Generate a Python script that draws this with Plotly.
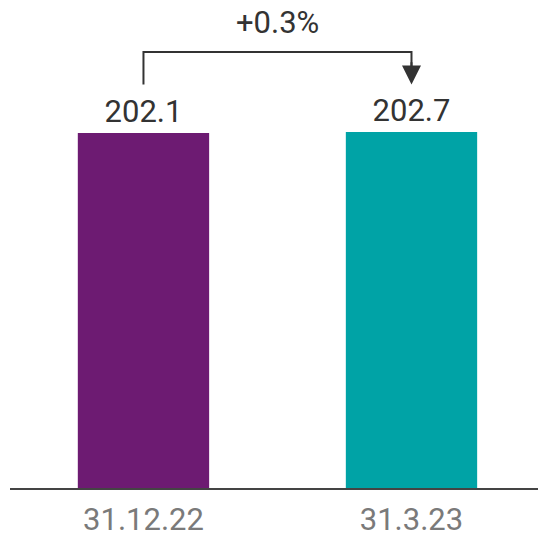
import plotly.graph_objects as go

categories = ["31.12.22", "31.3.23"]
values = [202.1, 202.7]
value_labels = ["202.1", "202.7"]
change_label = "+0.3%"
bar_colors = ["#6D1B72", "#00A3A6"]

FONT = "Roboto"
y_max = 277.8
x_idx = [0, 1]

fig = go.Figure()
fig.add_trace(go.Bar(
    x=x_idx, y=values, marker=dict(color=bar_colors, line=dict(width=0)),
    width=0.49, text=value_labels, textposition="outside",
    textfont=dict(family=FONT, size=31, color="#333333"),
    cliponaxis=False, hoverinfo="skip",
))

top = max(values) + 45.5
low = max(values) + 27
fig.add_shape(type="path", xref="x", yref="y",
              path=f"M {x_idx[0]},{low} L {x_idx[0]},{top} L {x_idx[1]},{top} L {x_idx[1]},{low + 8}",
              line=dict(color="#333333", width=2))
fig.add_annotation(x=x_idx[1], y=low, ax=x_idx[1], ay=top - 5, xref="x", yref="y",
                   axref="x", ayref="y", text="", showarrow=True,
                   arrowhead=2, arrowsize=1.9, arrowwidth=2, arrowcolor="#333333")
fig.add_annotation(x=(x_idx[0] + x_idx[1]) / 2, y=max(values) + 62.5, xref="x", yref="y",
                   text=change_label, showarrow=False, yanchor="middle",
                   font=dict(family=FONT, size=31, color="#333333"))

fig.update_layout(
    width=538, height=534,
    margin=dict(l=10, r=0, t=0, b=46, autoexpand=False),
    paper_bgcolor="white", plot_bgcolor="white",
    showlegend=False,
    xaxis=dict(range=[-0.498, 1.472], tickvals=x_idx, ticktext=categories,
               showline=True, linecolor="#444444", linewidth=2, automargin=False,
               showgrid=False, zeroline=False, ticks="", ticklabelstandoff=3,
               tickfont=dict(family=FONT, size=31, color="#7a7a7a")),
    yaxis=dict(range=[0, y_max], visible=False, showgrid=False, zeroline=False),
)

fig.write_html("out.html")
